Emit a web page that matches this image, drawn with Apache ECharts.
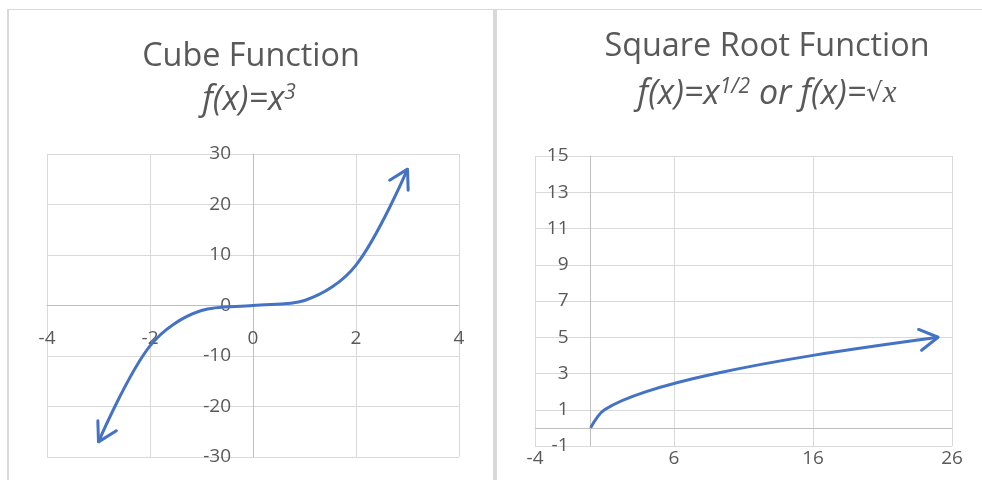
<!DOCTYPE html>
<html>
<head>
<meta charset="utf-8">
<title>Cube and Square Root Functions</title>
<script src="https://cdn.jsdelivr.net/npm/echarts@6/dist/echarts.min.js"></script>
<style>
  html, body { margin: 0; padding: 0; background: #ffffff; }
  #chart { width: 982px; height: 480px; }
</style>
</head>
<body>
<div id="chart"></div>
<script>
// f(x) = x^3 sample points
const cubeX = [-3, -2, -1, 0, 1, 2, 3];
const cubeY = [-27, -8, -1, 0, 1, 8, 27];

// f(x) = sqrt(x) sample points
const rootX = [0, 1, 4, 9, 16, 25];
const rootY = [0, 1, 2, 3, 4, 5];

// axis tick labels
const cubeXTicks = [-4, -2, 0, 2, 4];
const cubeYTicks = [-30, -20, -10, 0, 10, 20, 30];
const rootXTicks = [-4, 6, 16, 26];
const rootYTicks = [-1, 1, 3, 5, 7, 9, 11, 13, 15];

const BLUE = '#4472C4';
const GRID_COLOR = '#d9d9d9';
const AXIS_COLOR = '#bfbfbf';
const TEXT_COLOR = '#595959';
const FONT = 'Open Sans';
const SMOOTH = 0.34;

// plot areas
const cubeGrid = { left: 47, top: 154, width: 412, height: 303 };
const rootGrid = { left: 535, top: 156, width: 417, height: 290 };

const pairs = (xs, ys) => xs.map((x, i) => [x, ys[i]]);
const cubeData = pairs(cubeX, cubeY);
const rootData = pairs(rootX, rootY);

// arrow heads: [tipX, tipY, fromX, fromY]
const n = cubeData.length;
const cubeArrows = [
  [cubeX[n - 1], cubeY[n - 1], cubeX[n - 2], cubeY[n - 2]],
  [cubeX[0], cubeY[0], cubeX[1], cubeY[1]]
];
const m = rootData.length;
const rootArrows = [
  [rootX[m - 1], rootY[m - 1], rootX[m - 2], rootY[m - 2]]
];

function rangeOf(ticks) {
  return { min: ticks[0], max: ticks[ticks.length - 1], interval: ticks[1] - ticks[0] };
}

// distance (px) from the plot edge to the zero line of an axis
function zeroShift(ticks, span) {
  const r = rangeOf(ticks);
  return span * (0 - r.min) / (r.max - r.min);
}

function valueAxis(ticks, gridIndex, opts) {
  const r = rangeOf(ticks);
  return {
    type: 'value',
    gridIndex: gridIndex,
    min: r.min,
    max: r.max,
    interval: r.interval,
    offset: opts.offset || 0,
    axisTick: { show: false },
    axisLine: { show: opts.line !== false, onZero: false, lineStyle: { color: AXIS_COLOR, width: 1 } },
    splitLine: { show: true, lineStyle: { color: GRID_COLOR, width: 1 } },
    axisLabel: {
      color: TEXT_COLOR, fontFamily: FONT, fontSize: 19,
      margin: opts.margin, showMinLabel: true, showMaxLabel: true, hideOverlap: false
    }
  };
}

function arrowRenderer(params, api) {
  const tip = api.coord([api.value(0), api.value(1)]);
  const from = api.coord([api.value(2), api.value(3)]);
  const a = Math.atan2(tip[1] - from[1], tip[0] - from[0]);
  const L = 21, h = Math.PI / 6;
  return {
    type: 'polyline',
    shape: {
      points: [
        [tip[0] - L * Math.cos(a - h), tip[1] - L * Math.sin(a - h)],
        tip,
        [tip[0] - L * Math.cos(a + h), tip[1] - L * Math.sin(a + h)]
      ]
    },
    style: { stroke: BLUE, lineWidth: 3, fill: null, lineJoin: 'round', lineCap: 'round' }
  };
}

const titleStyle = { color: TEXT_COLOR, fontFamily: FONT, fontSize: 32.4, fontWeight: 'normal' };
const subStyle = {
  color: TEXT_COLOR, fontFamily: FONT, fontSize: 34, fontStyle: 'italic', fontWeight: 'normal',
  rich: {
    sup: { color: TEXT_COLOR, fontFamily: FONT, fontSize: 21, fontStyle: 'italic', verticalAlign: 'top' },
    rad: { color: TEXT_COLOR, fontFamily: 'DejaVu Serif', fontSize: 26 },
    var: { color: TEXT_COLOR, fontFamily: 'Liberation Serif', fontSize: 31, fontStyle: 'italic' }
  }
};

const chart = echarts.init(document.getElementById('chart'), null, { renderer: 'canvas' });

chart.setOption({
  backgroundColor: '#ffffff',
  animation: false,
  graphic: [
    { type: 'rect', shape: { x: 7, y: 9, width: 975, height: 1 }, style: { fill: GRID_COLOR }, silent: true },
    { type: 'rect', shape: { x: 7, y: 9, width: 2, height: 471 }, style: { fill: GRID_COLOR }, silent: true },
    { type: 'rect', shape: { x: 493, y: 9, width: 4, height: 471 }, style: { fill: GRID_COLOR }, silent: true }
  ],
  title: [
    { text: 'Cube Function', left: 251, top: 41, textAlign: 'center', textStyle: titleStyle, padding: 0 },
    { text: 'f(x)=x{sup|3}', left: 249, top: 83, textAlign: 'center', textStyle: subStyle, padding: 0 },
    { text: 'Square Root Function', left: 767, top: 31, textAlign: 'center', textStyle: titleStyle, padding: 0 },
    { text: 'f(x)=x{sup|1/2} or f(x)={rad|√}{var|x}', left: 767, top: 77, textAlign: 'center', textStyle: subStyle, padding: 0 }
  ],
  grid: [cubeGrid, rootGrid],
  xAxis: [
    // cube x axis sits on y = 0
    valueAxis(cubeXTicks, 0, { margin: 24, offset: -zeroShift(cubeYTicks, cubeGrid.height) }),
    // root x axis labels stay along the bottom edge
    valueAxis(rootXTicks, 1, { margin: 3, line: false })
  ],
  yAxis: [
    valueAxis(cubeYTicks, 0, { margin: 22, offset: -zeroShift(cubeXTicks, cubeGrid.width) }),
    valueAxis(rootYTicks, 1, { margin: 22, offset: -zeroShift(rootXTicks, rootGrid.width) })
  ],
  series: [
    {
      type: 'line', xAxisIndex: 0, yAxisIndex: 0, data: cubeData,
      smooth: SMOOTH, showSymbol: false, symbol: 'none',
      lineStyle: { color: BLUE, width: 3 }, z: 5
    },
    {
      type: 'custom', xAxisIndex: 0, yAxisIndex: 0, data: cubeArrows,
      renderItem: arrowRenderer, z: 6, silent: true
    },
    {
      type: 'line', xAxisIndex: 1, yAxisIndex: 1, data: rootData,
      smooth: SMOOTH, showSymbol: false, symbol: 'none',
      lineStyle: { color: BLUE, width: 3 }, z: 5,
      markLine: {
        silent: true, symbol: 'none', label: { show: false },
        lineStyle: { color: AXIS_COLOR, width: 1, type: 'solid' },
        data: [{ yAxis: 0 }], z: 1
      }
    },
    {
      type: 'custom', xAxisIndex: 1, yAxisIndex: 1, data: rootArrows,
      renderItem: arrowRenderer, z: 6, silent: true
    }
  ]
});
</script>
</body>
</html>
